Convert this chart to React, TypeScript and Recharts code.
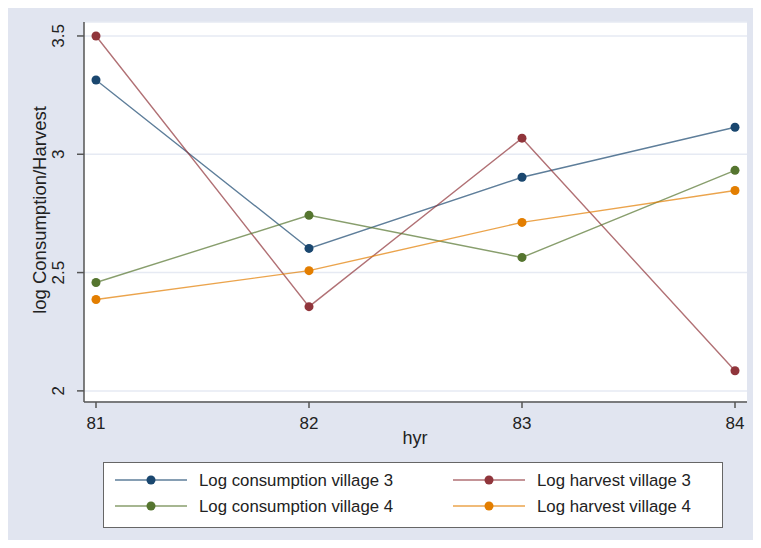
import React from "react";
import { LineChart, Line, XAxis, YAxis, CartesianGrid, Label } from "recharts";

const years = [81, 82, 83, 84];
const consumptionV3 = [3.314, 2.602, 2.903, 3.114];
const harvestV3 = [3.5, 2.356, 3.068, 2.085];
const consumptionV4 = [2.458, 2.742, 2.564, 2.932];
const harvestV4 = [2.386, 2.508, 2.712, 2.847];
const yTicks = [2, 2.5, 3, 3.5];

const series = [
  { key: "c3", name: "Log consumption village 3", color: "#1a476f", values: consumptionV3 },
  { key: "h3", name: "Log harvest village 3", color: "#90353b", values: harvestV3 },
  { key: "c4", name: "Log consumption village 4", color: "#55752f", values: consumptionV4 },
  { key: "h4", name: "Log harvest village 4", color: "#e37e00", values: harvestV4 },
];

const data = years.map((yr, i) => {
  const row: any = { hyr: yr };
  series.forEach((s) => (row[s.key] = s.values[i]));
  return row;
});

const FONT = "'Liberation Sans', Arial, sans-serif";
const BG = "#e1e5f0";

const YTick = ({ x, y, payload }: any) => (
  <text
    x={x - 11}
    y={y}
    transform={`rotate(-90, ${x - 11}, ${y})`}
    textAnchor="middle"
    fontSize={17}
    fontFamily={FONT}
    fill="#222"
  >
    {String(payload.value)}
  </text>
);

const XTick = ({ x, y, payload }: any) => (
  <text x={x} y={y + 19} textAnchor="middle" fontSize={17} fontFamily={FONT} fill="#222">
    {payload.value}
  </text>
);

function ChartLegend() {
  return (
    <div
      style={{
        position: "absolute",
        left: 103,
        top: 462,
        width: 620,
        height: 66,
        boxSizing: "border-box",
        border: "1.5px solid #666",
        background: "#fff",
      }}
    >
      <svg width={617} height={63} style={{ display: "block" }}>
        {series.map((s, i) => {
          const col = i % 2;
          const row = Math.floor(i / 2);
          const x0 = col === 0 ? 11 : 349;
          const cy = row === 0 ? 17 : 43;
          return (
            <g key={s.key}>
              <line x1={x0} x2={x0 + 72} y1={cy} y2={cy} stroke={s.color} strokeOpacity={0.7} strokeWidth={1.4} />
              <circle cx={x0 + 36} cy={cy} r={4.5} fill={s.color} />
              <text x={x0 + 84} y={cy + 6} fontSize={16.8} fontFamily={FONT} fill="#222">
                {s.name}
              </text>
            </g>
          );
        })}
      </svg>
    </div>
  );
}

export default function App() {
  return (
    <div style={{ margin: -8, width: 761, height: 548, background: BG, position: "relative", overflow: "hidden" }}>
      <div style={{ position: "absolute", left: 3, top: 0, width: 4, height: 548, background: "#f7f8fb" }} />
      <LineChart
        width={761}
        height={548}
        data={data}
        margin={{ top: 22, right: 14, left: 0, bottom: 96 }}
      >
        <CartesianGrid vertical={false} stroke="#e6eaf3" strokeWidth={1.5} fill="#fff" />
        <XAxis
          dataKey="hyr"
          type="number"
          domain={[81, 84]}
          ticks={years}
          padding={{ left: 12, right: 12 }}
          height={50}
          tick={<XTick />}
          tickSize={6}
          axisLine={{ stroke: "#555", strokeWidth: 1.5 }}
          tickLine={{ stroke: "#555", strokeWidth: 1.5 }}
        >
          <Label
            content={() => (
              <text x={415} y={444} textAnchor="middle" fontSize={18} fontFamily={FONT} fill="#222">
                hyr
              </text>
            )}
          />
        </XAxis>
        <YAxis
          type="number"
          domain={[1.953, 3.559]}
          allowDataOverflow
          ticks={yTicks}
          width={84}
          tick={<YTick />}
          tickSize={7}
          axisLine={{ stroke: "#555", strokeWidth: 1.5 }}
          tickLine={{ stroke: "#555", strokeWidth: 1.5 }}
        >
          <Label
            content={() => (
              <text
                x={46}
                y={210}
                transform="rotate(-90, 46, 210)"
                textAnchor="middle"
                fontSize={18.5}
                fontFamily={FONT}
                fill="#222"
              >
                log Consumption/Harvest
              </text>
            )}
          />
        </YAxis>
        {series.map((s) => (
          <Line
            key={s.key}
            dataKey={s.key}
            name={s.name}
            stroke={s.color}
            strokeOpacity={0.7}
            strokeWidth={1.4}
            dot={{ r: 4.5, fill: s.color, stroke: s.color, strokeWidth: 0, fillOpacity: 1, strokeOpacity: 1 }}
            isAnimationActive={false}
          />
        ))}
      </LineChart>
      <ChartLegend />
    </div>
  );
}
